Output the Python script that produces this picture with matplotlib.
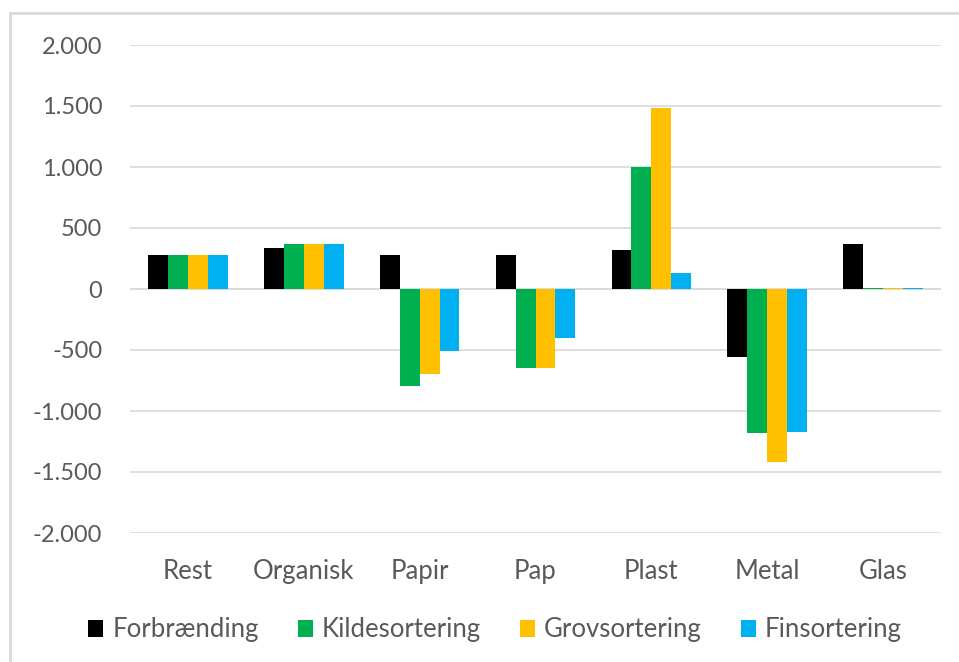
import numpy as np
import matplotlib
matplotlib.use("Agg")
import matplotlib.pyplot as plt
from matplotlib.ticker import FuncFormatter, MultipleLocator
from matplotlib.lines import Line2D

# ============================
#  DATA
# ============================
kategorier = ["Rest", "Organisk", "Papir", "Pap", "Plast", "Metal", "Glas"]

forbraending    = [276, 338, 276, 278, 317, -554, 369]
kildesortering  = [276, 371, -794, -647, 1000, -1182, 10]
grovsortering   = [276, 371, -699, -647, 1483, -1422, 10]
finsortering    = [276, 371, -510, -404, 128, -1174, 10]

serier = ["Forbrænding", "Kildesortering", "Grovsortering", "Finsortering"]

# ============================
#  FARVER
# ============================
SORT  = "#000000"
GROEN = "#00B050"
GUL   = "#FFC000"
BLAA  = "#00B0F0"
TEKST = "#595959"
GRID  = "#D9D9D9"

plt.rcParams["font.family"] = ["Lato", "DejaVu Sans"]

fig = plt.figure(figsize=(9.59, 6.62), dpi=100)
ax = fig.add_axes([130/959, 1-533/662, (941-130)/959, (533-45)/662])

x = np.arange(len(kategorier))
w = 0.172
vaerdier = [forbraending, kildesortering, grovsortering, finsortering]
farver = [SORT, GROEN, GUL, BLAA]
for i, (v, c, navn) in enumerate(zip(vaerdier, farver, serier)):
    ax.bar(x + (i-1.5)*w, v, width=w, color=c, label=navn, zorder=3)

ax.set_xlim(-0.5, len(kategorier)-0.5)
ax.set_ylim(-2000, 2000)
ax.yaxis.set_major_locator(MultipleLocator(500))
ax.yaxis.set_major_formatter(FuncFormatter(
    lambda v, p: ("-" if v < 0 else "") + f"{abs(int(v)):,}".replace(",", ".")))
ax.set_xticks(x)
ax.set_xticklabels(kategorier)

ax.grid(axis="y", color=GRID, linewidth=1.2, zorder=0)
ax.axhline(0, color=GRID, linewidth=1.2, zorder=1)
for s in ax.spines.values():
    s.set_visible(False)
ax.tick_params(axis="both", length=0, colors=TEKST)
ax.tick_params(axis="y", pad=20, labelsize=17)
ax.tick_params(axis="x", pad=19, labelsize=18.5)

leg = fig.legend(loc="center", bbox_to_anchor=(495/959, 1-630/662), ncol=4,
                 frameon=False, fontsize=18.5, handlelength=0.6, handleheight=0.6,
                 handletextpad=0.35, columnspacing=1.5)
for t in leg.get_texts():
    t.set_color(TEKST)

# kant (venstre og top)
fig.add_artist(Line2D([10/959, 10/959], [0, 1-13/662], transform=fig.transFigure,
                      color=GRID, linewidth=2))
fig.add_artist(Line2D([10/959, 1], [1-13/662, 1-13/662], transform=fig.transFigure,
                      color=GRID, linewidth=2))

fig.savefig("out.png", dpi=100)
